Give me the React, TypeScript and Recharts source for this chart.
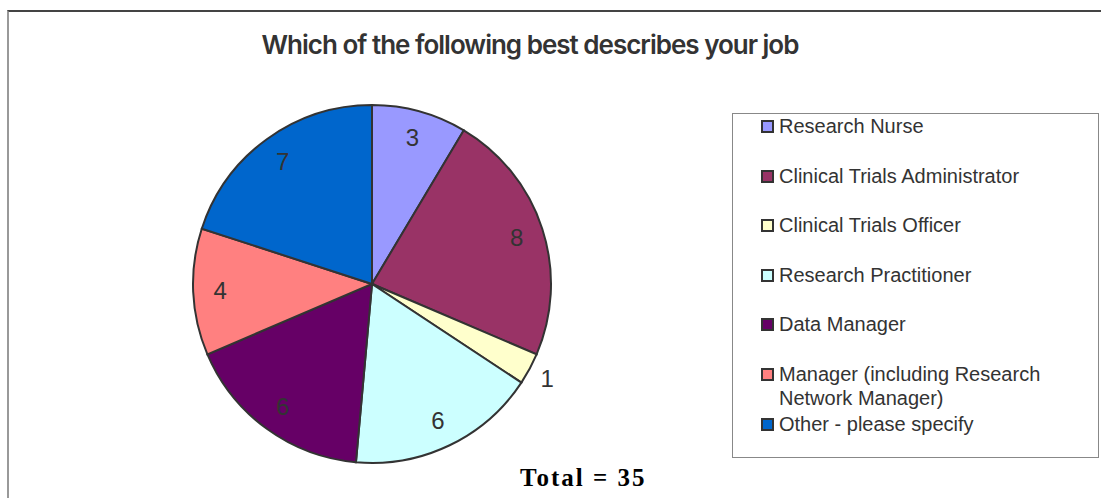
import React from "react";
import { PieChart, Pie, Cell, Legend } from "recharts";

const categories = [
  "Research Nurse",
  "Clinical Trials Administrator",
  "Clinical Trials Officer",
  "Research Practitioner",
  "Data Manager",
  "Manager (including Research Network Manager)",
  "Other - please specify",
];
const counts = [3, 8, 1, 6, 6, 4, 7];
const colors = ["#9999FF", "#993366", "#FFFFCC", "#CCFFFF", "#660066", "#FF8080", "#0066CC"];

const data = categories.map((name, i) => ({ name, value: counts[i] }));
const total = counts.reduce((a, b) => a + b, 0);

const RAD = Math.PI / 180;

const renderLabel = (props: any) => {
  const { cx, cy, midAngle, outerRadius, value, percent } = props;
  // thin slices get their label outside the pie
  const r = percent < 0.05 ? outerRadius + 20 : outerRadius - 27;
  const x = cx + r * Math.cos(-midAngle * RAD);
  const y = cy + r * Math.sin(-midAngle * RAD);
  return (
    <text
      x={x}
      y={y}
      fill="#333"
      fontSize={24}
      fontFamily="'Liberation Sans', Arial, sans-serif"
      textAnchor="middle"
      dominantBaseline="central"
    >
      {value}
    </text>
  );
};

// legend keeps the series order (recharts would sort the payload by name)
const LegendBox = () => (
  <div
    style={{
      width: 365,
      height: 343,
      border: "1px solid #888",
      fontFamily: "'Liberation Sans', Arial, sans-serif",
      fontSize: 20,
      color: "#333",
      boxSizing: "content-box",
    }}
  >
    {categories.map((name, i) => (
      <div key={name} style={{ display: "flex", alignItems: "flex-start", height: 49.6, lineHeight: "24px" }}>
        <span
          style={{
            display: "inline-block",
            width: 9,
            height: 9,
            border: "2px solid #333",
            background: colors[i],
            marginLeft: 28,
            marginTop: 6,
            marginRight: 5,
            flex: "none",
          }}
        />
        <span style={{ width: 300 }}>{name}</span>
      </div>
    ))}
  </div>
);

export default function App() {
  return (
    <div
      style={{
        position: "absolute",
        left: 7,
        top: 10,
        width: 1100,
        height: 500,
        borderTop: "2px solid #444",
        borderLeft: "2px solid #999",
        background: "#fff",
      }}
    >
      <div
        style={{
          position: "absolute",
          left: 0,
          width: 1042,
          top: 17,
          textAlign: "center",
          fontFamily: "Inter, 'Liberation Sans', sans-serif",
          fontWeight: 600,
          fontSize: 26,
          letterSpacing: -1,
          color: "#333",
        }}
      >
        Which of the following best describes your job
      </div>
      <PieChart width={1098} height={488}>
        <Pie
          data={data}
          dataKey="value"
          nameKey="name"
          cx={358}
          cy={267}
          outerRadius={179}
          startAngle={90}
          endAngle={-270}
          stroke="#333"
          strokeWidth={2}
          label={renderLabel}
          labelLine={false}
          isAnimationActive={false}
        >
          {data.map((d, i) => (
            <Cell key={d.name} fill={colors[i]} />
          ))}
        </Pie>
        <Legend
          layout="vertical"
          align="right"
          verticalAlign="top"
          content={<LegendBox />}
          wrapperStyle={{ left: 723, top: 101, width: 367, height: 345 }}
        />
      </PieChart>
      <div
        style={{
          position: "absolute",
          left: 511,
          top: 452,
          fontFamily: "'Liberation Serif', serif",
          fontWeight: 700,
          fontSize: 25,
          letterSpacing: 2,
          color: "#000",
          whiteSpace: "nowrap",
        }}
      >
        Total = {total}
      </div>
    </div>
  );
}
